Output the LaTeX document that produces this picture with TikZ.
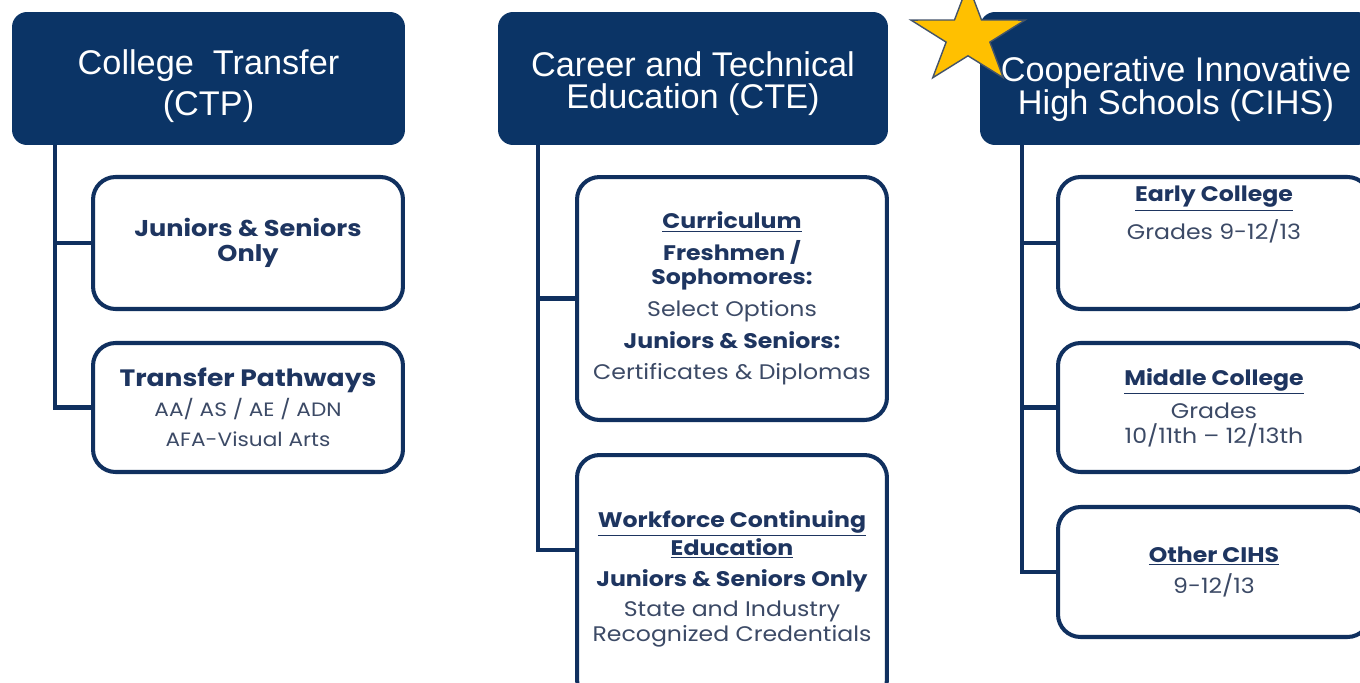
\documentclass[tikz,border=0pt]{standalone}
\usepackage{fontspec}
\setmainfont{Liberation Sans}
\newfontfamily\boxfont[FakeStretch=1.12]{Poppins}
\usetikzlibrary{positioning}

\definecolor{navy}{HTML}{0B3466}
\definecolor{navyline}{HTML}{10305F}
\definecolor{boxink}{HTML}{1E3560}
\definecolor{greyink}{HTML}{3C4A66}
\definecolor{stargold}{HTML}{FFC000}
\definecolor{staredge}{HTML}{44546A}

\tikzset{
  header/.style={
    fill=navy,
    text=white,
    rounded corners=0.3cm,
    align=center,
    inner sep=0pt,
    font=\fontsize{19.5}{18}\selectfont
  },
  subbox/.style={
    draw=navyline,
    line width=2.3pt,
    rounded corners=0.45cm,
    fill=white,
    align=center,
    inner sep=0pt,
    text=boxink,
    font=\boxfont\fontsize{12}{14}\selectfont
  },
  link/.style={draw=navyline, line width=2.3pt},
  starline/.style={fill=stargold, draw=staredge, line width=0.8pt}
}

\newcommand\lite[1]{{\color{greyink}#1}}
\newcommand\headline[1]{\textbf{\underline{#1}}}

\begin{document}
\begin{tikzpicture}[x=0.02cm, y=-0.02cm]

  \clip (0,0) rectangle (1360,683);
  \fill[white] (0,0) rectangle (1360,683);

  % College Transfer {{{
  \node[header, minimum width=7.86cm, minimum height=2.66cm,
    font=\fontsize{19.5}{23}\selectfont] (ctp) at (208.5,78.5)
  {\rule{0pt}{0.8cm}College~ Transfer\\(CTP)};
  \node[subbox, minimum width=6.2cm, minimum height=2.64cm,
    font=\boxfont\fontsize{13}{14.5}\selectfont] (ctpjuniors) at (248,243)
  {\textbf{Juniors \& Seniors}\\\textbf{Only}};
  \node[subbox, minimum width=6.2cm, minimum height=2.58cm] (ctppathways) at (248,407.5)
  {{\fontsize{13.5}{14}\selectfont\textbf{Transfer Pathways}}\\[3pt]
    {\fontsize{11}{14}\selectfont\lite{AA/ AS / AE / ADN}}\\[3pt]
    {\fontsize{11}{14}\selectfont\lite{AFA-Visual Arts}}};
  \draw[link] ([xshift=0.86cm]ctp.south west) |- (ctpjuniors);
  \draw[link] ([xshift=0.86cm]ctp.south west) |- (ctppathways);
  % }}}

  % Career and Technical Education {{{
  \node[header, minimum width=7.8cm, minimum height=2.66cm] (cte) at (693,78.5)
  {\rule{0pt}{0.7cm}Career and Technical\\Education (CTE)};
  \node[subbox, minimum width=6.2cm, minimum height=4.86cm] (ctecurric) at (732,298.5)
  {\headline{Curriculum}\\[4pt]
    \textbf{Freshmen /}\\
    \textbf{Sophomores:}\\[4pt]
    \lite{Select Options}\\[4pt]
    \textbf{Juniors \& Seniors:}\\[4pt]
    \lite{Certificates \& Diplomas}};
  \node[subbox, minimum width=6.2cm, minimum height=4.94cm] (cteworkforce) at (732,578.5)
  {\headline{Workforce Continuing}\\
    \headline{Education}\\[4pt]
    \textbf{Juniors \& Seniors Only}\\[3pt]
    \lite{State and Industry}\\
    \lite{Recognized Credentials}};
  \draw[link] ([xshift=0.8cm]cte.south west) |- (ctecurric);
  \draw[link] ([xshift=0.8cm]cte.south west) |- ([yshift=0.57cm]cteworkforce.west);
  % }}}

  % Cooperative Innovative High Schools {{{
  \node[header, minimum width=7.84cm, minimum height=2.66cm] (cihs) at (1176,78.5)
  {\rule{0pt}{0.92cm}Cooperative Innovative\\High Schools (CIHS)};
  \node[subbox, minimum width=6.24cm, minimum height=2.64cm] (cihsearly) at (1214,243)
  {\headline{Early College}\\[4pt]
    \lite{Grades 9-12/13}\\[20pt]\mbox{}};
  \node[subbox, minimum width=6.24cm, minimum height=2.58cm] (cihsmiddle) at (1214,407.5)
  {\headline{Middle College}\\[4pt]
    \lite{Grades}\\
    \lite{10/11th – 12/13th}};
  \node[subbox, minimum width=6.24cm, minimum height=2.6cm] (cihsother) at (1214,572)
  {\headline{Other CIHS}\\[4pt]
    \lite{9-12/13}};
  \draw[link] ([xshift=0.84cm]cihs.south west) |- (cihsearly);
  \draw[link] ([xshift=0.84cm]cihs.south west) |- (cihsmiddle);
  \draw[link] ([xshift=0.84cm]cihs.south west) |- (cihsother);
  % }}}

  % star on the CIHS header
  \draw[starline] (968,-15.6)
    \foreach \k [evaluate=\k as \r using {mod(\k,2)==0 ? 60 : 23}] in {1,...,9}
    { -- ({968+\r*cos(90+36*\k)}, {36-0.86*\r*sin(90+36*\k)}) } -- cycle;

\end{tikzpicture}
\end{document}
